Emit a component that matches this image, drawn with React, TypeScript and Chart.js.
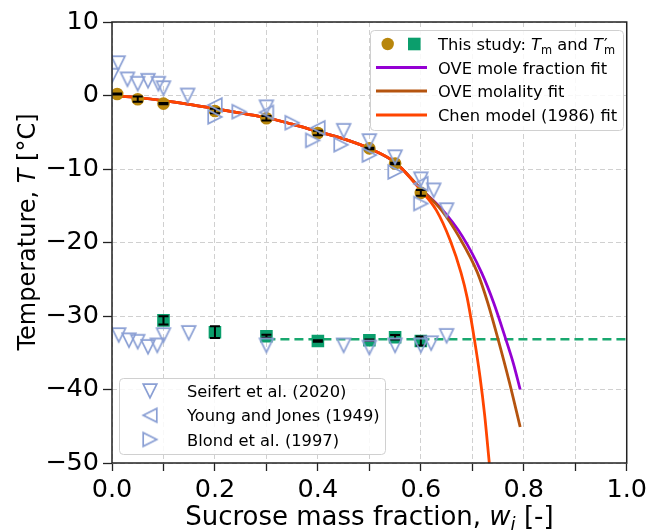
import React, { useEffect, useRef } from 'react';
import { Chart, registerables } from 'chart.js';

Chart.register(...registerables);

const FAMILY = '"DejaVu Sans"';

// ---- This study: Tm (melting) ----
const tmW = [0.01, 0.05, 0.1, 0.2, 0.3, 0.4, 0.5, 0.55, 0.6];
const tmT = [0.2, -0.5, -1.1, -2.1, -3.1, -5.1, -7.2, -9.25, -13.25];
const tmErr = [0.08, 0.35, 0.08, 0.3, 0.3, 0.3, 0.1, 0.1, 0.4];

// ---- This study: T'm ----
const tgW = [0.1, 0.2, 0.3, 0.4, 0.5, 0.55, 0.6];
const tgT = [-30.6, -32.2, -32.75, -33.4, -33.3, -32.9, -33.4];
const tgErr = [0.55, 0.8, 0.2, 0.1, 0.1, 0.3, 0.6];

// mean T'm dashed line
const tgMeanW = [0.3, 1.0];
const tgMeanT = [-33.15, -33.15];

// ---- Literature ----
const seifertW = [0.0, 0.012, 0.03, 0.05, 0.07, 0.09, 0.1, 0.147, 0.3, 0.45, 0.5, 0.55, 0.6, 0.625, 0.65,
  0.013, 0.033, 0.05, 0.07, 0.088, 0.1, 0.149, 0.3, 0.45, 0.5, 0.55, 0.6, 0.62, 0.65];
const seifertT = [2.7, 4.4, 2.2, 1.6, 2.0, 1.6, 1.0, 0.0, -1.6, -4.8, -6.2, -8.4, -11.4, -12.9, -15.6,
  -32.6, -33.3, -33.5, -34.2, -34.0, -32.6, -32.3, -34.0, -34.0, -34.3, -34.0, -34.0, -33.7, -32.7];

const youngW = [0.2, 0.3, 0.4, 0.6];
const youngT = [-1.3, -2.3, -4.4, -12.0];

const blondW = [0.2, 0.247, 0.35, 0.39, 0.445, 0.5, 0.55, 0.6];
const blondT = [-2.9, -2.2, -3.7, -6.1, -6.7, -8.1, -10.4, -14.7];

// ---- Fits ----
const oveMoleW = [0, 0.05, 0.1, 0.15, 0.2, 0.25, 0.3, 0.35, 0.4, 0.45, 0.5, 0.55, 0.6, 0.64, 0.681, 0.718, 0.742, 0.765, 0.78, 0.793];
const oveMoleT = [0, -0.3, -0.7, -1.2, -1.8, -2.4, -3.0, -3.9, -4.9, -5.9, -7.2, -9.1, -12.7, -15.4, -19.2, -24.1, -28.3, -33.15, -36.5, -40.0];

const oveMolalW = [0, 0.05, 0.1, 0.15, 0.2, 0.25, 0.3, 0.35, 0.4, 0.45, 0.5, 0.55, 0.6, 0.64, 0.674, 0.71, 0.73, 0.75, 0.772, 0.793];
const oveMolalT = [0, -0.3, -0.7, -1.2, -1.8, -2.4, -3.0, -3.9, -4.9, -5.9, -7.2, -9.1, -12.7, -15.6, -19.2, -24.1, -28.2, -33.15, -39.0, -45.1];

const chenW = [0, 0.05, 0.1, 0.15, 0.2, 0.25, 0.3, 0.35, 0.4, 0.45, 0.5, 0.55, 0.6, 0.63, 0.657, 0.678, 0.69, 0.704, 0.715, 0.724, 0.733];
const chenT = [0, -0.3, -0.7, -1.2, -1.8, -2.4, -3.0, -3.9, -4.9, -5.9, -7.2, -9.1, -12.9, -15.6, -19.7, -24.1, -27.5, -33.15, -38.3, -43.5, -50.0];

// ---- Axis ticks ----
const xMin = 0, xMax = 1, xStep = 0.1;
const yMin = -50, yMax = 10, yStep = 10;

const C_GOLD = '#b8860b';
const C_GREEN = '#0b9e6c';
const C_GREEN_LINE = '#19a86f';
const C_TRI = '#8a9fd4';
const C_PURPLE = '#9400d3';
const C_BROWN = '#b5540f';
const C_CHEN = '#ff4500';

const pts = (xs: number[], ys: number[]) => xs.map((x, i) => ({ x, y: ys[i] }));

function makeTri(dir: 'down' | 'left' | 'right'): HTMLCanvasElement {
  const c = document.createElement('canvas');
  c.width = 20; c.height = 20;
  const g = c.getContext('2d')!;
  const m = 10, s = 6.8;
  g.strokeStyle = C_TRI;
  g.lineWidth = 1.7;
  g.lineJoin = 'miter';
  g.beginPath();
  if (dir === 'down') { g.moveTo(m, m + s); g.lineTo(m - s, m - s); g.lineTo(m + s, m - s); }
  if (dir === 'left') { g.moveTo(m - s, m); g.lineTo(m + s, m - s); g.lineTo(m + s, m + s); }
  if (dir === 'right') { g.moveTo(m + s, m); g.lineTo(m - s, m - s); g.lineTo(m - s, m + s); }
  g.closePath();
  g.stroke();
  return c;
}

type Seg = { t: string; size: number; italic?: boolean; dy?: number; dx?: number; noAdv?: boolean };
const fontOf = (s: Seg) => `${s.italic ? 'italic ' : ''}${s.size}px ${FAMILY}`;
function richWidth(ctx: CanvasRenderingContext2D, segs: Seg[]) {
  let w = 0;
  for (const s of segs) { ctx.font = fontOf(s); if (!s.noAdv) w += ctx.measureText(s.t).width; }
  return w;
}
function drawRich(ctx: CanvasRenderingContext2D, segs: Seg[], x: number, y: number) {
  let cx = x;
  for (const s of segs) {
    ctx.font = fontOf(s);
    ctx.fillText(s.t, cx + (s.dx ?? 0), y + (s.dy ?? 0));
    if (!s.noAdv) cx += ctx.measureText(s.t).width;
  }
}
function roundRect(ctx: CanvasRenderingContext2D, x: number, y: number, w: number, h: number, r: number) {
  ctx.beginPath();
  ctx.moveTo(x + r, y);
  ctx.arcTo(x + w, y, x + w, y + h, r);
  ctx.arcTo(x + w, y + h, x, y + h, r);
  ctx.arcTo(x, y + h, x, y, r);
  ctx.arcTo(x, y, x + w, y, r);
  ctx.closePath();
}

export default function App() {
  const ref = useRef<HTMLCanvasElement>(null);

  useEffect(() => {
    document.body.style.margin = '0';
    const triDown = makeTri('down');
    const triLeft = makeTri('left');
    const triRight = makeTri('right');

    const customPlugin = {
      id: 'customDraw',
      afterDatasetDraw(chart: any, args: any) {
        const ds = chart.data.datasets[args.index];
        if (!ds.errors) return;
        const ctx = chart.ctx as CanvasRenderingContext2D;
        const xs = chart.scales.x, ys = chart.scales.y;
        ctx.save();
        ctx.strokeStyle = '#000';
        ctx.lineWidth = 2;
        ds.data.forEach((p: any, i: number) => {
          const e = ds.errors[i];
          const px = xs.getPixelForValue(p.x);
          const y1 = ys.getPixelForValue(p.y + e);
          const y2 = ys.getPixelForValue(p.y - e);
          ctx.beginPath();
          ctx.moveTo(px, y1); ctx.lineTo(px, y2);
          ctx.moveTo(px - 5, y1); ctx.lineTo(px + 5, y1);
          ctx.moveTo(px - 5, y2); ctx.lineTo(px + 5, y2);
          ctx.stroke();
        });
        ctx.restore();
      },
      afterDraw(chart: any) {
        const ctx = chart.ctx as CanvasRenderingContext2D;
        const a = chart.chartArea;
        ctx.save();
        // frame
        ctx.strokeStyle = '#222';
        ctx.lineWidth = 1.5;
        ctx.strokeRect(a.left, a.top, a.right - a.left, a.bottom - a.top);

        ctx.fillStyle = '#000';
        ctx.textBaseline = 'alphabetic';
        ctx.textAlign = 'left';

        // ---- Legend 1 (top right) ----
        const L = 16.3;
        roundRect(ctx, 370.5, 30.5, 253, 100, 4);
        ctx.fillStyle = 'rgba(255,255,255,0.85)';
        ctx.fill();
        ctx.strokeStyle = '#d0d0d0';
        ctx.lineWidth = 1;
        ctx.stroke();
        const rows1 = [44, 67.5, 91, 115];
        const textX1 = 438;
        const base = (cy: number) => cy + 6;
        // row 1 markers
        ctx.fillStyle = C_GOLD;
        ctx.beginPath(); ctx.arc(387.7, rows1[0], 6.2, 0, Math.PI * 2); ctx.fill();
        ctx.fillStyle = C_GREEN;
        ctx.fillRect(414.3 - 6.3, rows1[0] - 6.3, 12.6, 12.6);
        ctx.fillStyle = '#000';
        const sub = L * 0.7;
        drawRich(ctx, [
          { t: 'This study: ', size: L },
          { t: 'T', size: L, italic: true },
          { t: 'm', size: sub, dy: 3.5 },
          { t: ' and ', size: L },
          { t: 'T', size: L, italic: true },
          { t: '\u2032', size: L, dx: 1, noAdv: true },
          { t: 'm', size: sub, dy: 3.5, dx: 1 },
        ], textX1, base(rows1[0]));
        const lines: [string, string][] = [
          [C_PURPLE, 'OVE mole fraction fit'],
          [C_BROWN, 'OVE molality fit'],
          [C_CHEN, 'Chen model (1986) fit'],
        ];
        lines.forEach(([col, label], i) => {
          const cy = rows1[i + 1];
          ctx.strokeStyle = col;
          ctx.lineWidth = 2.8;
          ctx.beginPath(); ctx.moveTo(376, cy); ctx.lineTo(427, cy); ctx.stroke();
          ctx.fillStyle = '#000';
          drawRich(ctx, [{ t: label, size: L }], textX1, base(cy));
        });

        // ---- Legend 2 (bottom left) ----
        roundRect(ctx, 119.5, 378.5, 266, 76, 4);
        ctx.fillStyle = 'rgba(255,255,255,0.85)';
        ctx.fill();
        ctx.strokeStyle = '#d0d0d0';
        ctx.lineWidth = 1;
        ctx.stroke();
        const rows2 = [391, 415.3, 439.5];
        const tris = [triDown, triLeft, triRight];
        const labels2 = ['Seifert et al. (2020)', 'Young and Jones (1949)', 'Blond et al. (1997)'];
        rows2.forEach((cy, i) => {
          ctx.drawImage(tris[i], 150 - 10, cy - 10);
          ctx.fillStyle = '#000';
          drawRich(ctx, [{ t: labels2[i], size: L }], 187, base(cy));
        });

        // ---- Axis titles ----
        ctx.fillStyle = '#000';
        const TX = 26;
        const xSegs: Seg[] = [
          { t: 'Sucrose mass fraction, ', size: TX },
          { t: 'w', size: TX, italic: true },
          { t: 'i', size: TX * 0.7, italic: true, dy: 5 },
          { t: ' [-]', size: TX },
        ];
        const xw = richWidth(ctx, xSegs);
        drawRich(ctx, xSegs, (a.left + a.right) / 2 - xw / 2, 525);

        const TY = 24;
        const ySegs: Seg[] = [
          { t: 'Temperature, ', size: TY },
          { t: 'T', size: TY, italic: true },
          { t: ' [\u00B0C]', size: TY },
        ];
        const yw = richWidth(ctx, ySegs);
        ctx.translate(35, 232);
        ctx.rotate(-Math.PI / 2);
        drawRich(ctx, ySegs, -yw / 2, 0);
        ctx.restore();
      },
    };

    const curve = (xs: number[], ys: number[], color: string, order: number) => ({
      data: pts(xs, ys),
      borderColor: color,
      backgroundColor: color,
      borderWidth: 2.8,
      pointRadius: 0,
      showLine: true,
      cubicInterpolationMode: 'monotone' as const,
      order,
      clip: 0,
    });

    const tickFont = { family: 'DejaVu Sans', size: 25.5 };

    const chart = new Chart(ref.current!, {
      type: 'line',
      data: {
        datasets: [
          {
            data: pts(tgMeanW, tgMeanT),
            borderColor: C_GREEN_LINE,
            borderWidth: 2.5,
            borderDash: [9, 5],
            pointRadius: 0,
            showLine: true,
            order: 7,
            clip: 0,
          } as any,
          curve(oveMoleW, oveMoleT, C_PURPLE, 6),
          curve(oveMolalW, oveMolalT, C_BROWN, 5),
          curve(chenW, chenT, C_CHEN, 4),
          {
            data: pts(tgW, tgT),
            errors: tgErr,
            showLine: false,
            pointStyle: 'rect',
            pointRadius: 8.9,
            backgroundColor: C_GREEN,
            borderColor: C_GREEN,
            borderWidth: 0,
            order: 3,
            clip: 0,
          } as any,
          {
            data: pts(tmW, tmT),
            errors: tmErr,
            showLine: false,
            pointStyle: 'circle',
            pointRadius: 6.3,
            backgroundColor: C_GOLD,
            borderColor: C_GOLD,
            borderWidth: 0,
            order: 2,
            clip: 0,
          } as any,
          {
            data: pts(seifertW, seifertT),
            showLine: false,
            pointStyle: triDown,
            pointRadius: 7,
            order: 1,
            clip: 0,
          } as any,
          {
            data: pts(youngW, youngT),
            showLine: false,
            pointStyle: triLeft,
            pointRadius: 7,
            order: 1,
            clip: 0,
          } as any,
          {
            data: pts(blondW, blondT),
            showLine: false,
            pointStyle: triRight,
            pointRadius: 7,
            order: 1,
            clip: 0,
          } as any,
        ],
      },
      options: {
        animation: false,
        responsive: false,
        devicePixelRatio: 1,
        events: [],
        layout: { padding: { left: 0, right: 21, top: 22, bottom: 0 } },
        plugins: { legend: { display: false }, tooltip: { enabled: false } },
        scales: {
          x: {
            type: 'linear',
            min: xMin,
            max: xMax,
            ticks: {
              stepSize: xStep,
              autoSkip: false,
              maxRotation: 0,
              color: '#000',
              padding: 4,
              font: tickFont,
              callback: (v: any) => {
                const k = Math.round(Number(v) * 10);
                return k % 2 === 0 ? (k / 10).toFixed(1) : '';
              },
            },
            grid: { color: '#d0d0d0', lineWidth: 1, tickLength: 8, tickColor: '#222', tickWidth: 1.3 },
            border: { display: false, dash: [5, 3] },
            afterFit: (s: any) => { s.height = 68; },
          },
          y: {
            type: 'linear',
            min: yMin,
            max: yMax,
            ticks: {
              stepSize: yStep,
              autoSkip: false,
              color: '#000',
              padding: 4,
              font: tickFont,
              callback: (v: any) => {
                const n = Number(v);
                return n < 0 ? '\u2212' + Math.abs(n) : String(n);
              },
            },
            grid: { color: '#d0d0d0', lineWidth: 1, tickLength: 9, tickColor: '#222', tickWidth: 1.3 },
            border: { display: false, dash: [5, 3] },
            afterFit: (s: any) => { s.width = 112; },
          },
        },
      } as any,
      plugins: [customPlugin],
    });
    return () => chart.destroy();
  }, []);

  return (
    <div style={{ width: 651, height: 531 }}>
      <canvas ref={ref} width={651} height={531} style={{ display: 'block', width: 651, height: 531 }} />
    </div>
  );
}
